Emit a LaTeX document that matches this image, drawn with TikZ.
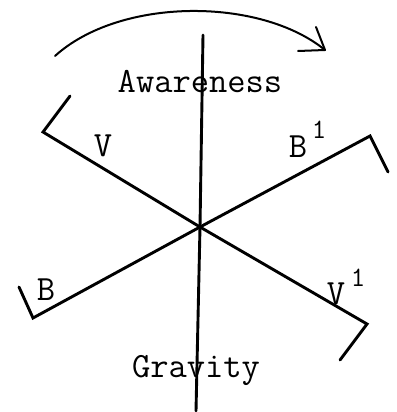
\documentclass[tikz,border=0pt]{standalone}
\usepackage{fontspec}
\newcommand{\typew}{\ttfamily\addfontfeatures{FakeBold=1.6}}
\begin{document}
\begin{tikzpicture}[x=1pt,y=-1pt,
  axis/.style={line width=2.9pt,line cap=round},
  lbl/.style={font=\fontsize{35.5}{35.5}\typew,inner sep=0pt,text=black},
  sup/.style={font=\fontsize{28}{28}\typew,inner sep=0pt}]
\useasboundingbox (0,0) rectangle (396,412);
% centre and end points
\coordinate (c) at (200,227);
\coordinate (top) at (203,35);
\coordinate (bot) at (196,411);
\coordinate (vE) at (43,132);   \coordinate (vH) at (70,96);
\coordinate (b1E) at (370,136); \coordinate (b1H) at (388,172);
\coordinate (bE) at (33,318);   \coordinate (bH) at (19,287);
\coordinate (v1E) at (367,324); \coordinate (v1H) at (340,360);
% axes
\draw[axis] (top) -- (c) -- (bot);
\draw[axis] (vH) -- (vE) -- (c) -- (v1E) -- (v1H);
\draw[axis] (bH) -- (bE) -- (c) -- (b1E) -- (b1H);
% rotation arc
\coordinate (arcS) at (55,56);
\coordinate (arcE) at (325,50);
\coordinate (ah1) at (298,51);
\coordinate (ah2) at (316,27);
\draw[line width=2pt,line cap=round] (arcS) .. controls (120,-3) and (260,-3) .. (arcE);
\draw[line width=2pt,line cap=round,line join=round] (ah1) -- (arcE) -- (ah2);
% labels
\node[lbl] (aw) at (200,82) {Awareness};
\node[lbl] (gr) at (196,370) {Gravity};
\node[lbl] (v) at (103,146) {V};
\node[lbl] (b1) at (298,147) {B};
\node[sup] (b1s) at (319,130) {1};
\node[lbl] (b) at (46,290) {B};
\node[lbl] (v1) at (336,294) {V};
\node[sup] (v1s) at (358,278) {1};
\end{tikzpicture}
\end{document}
